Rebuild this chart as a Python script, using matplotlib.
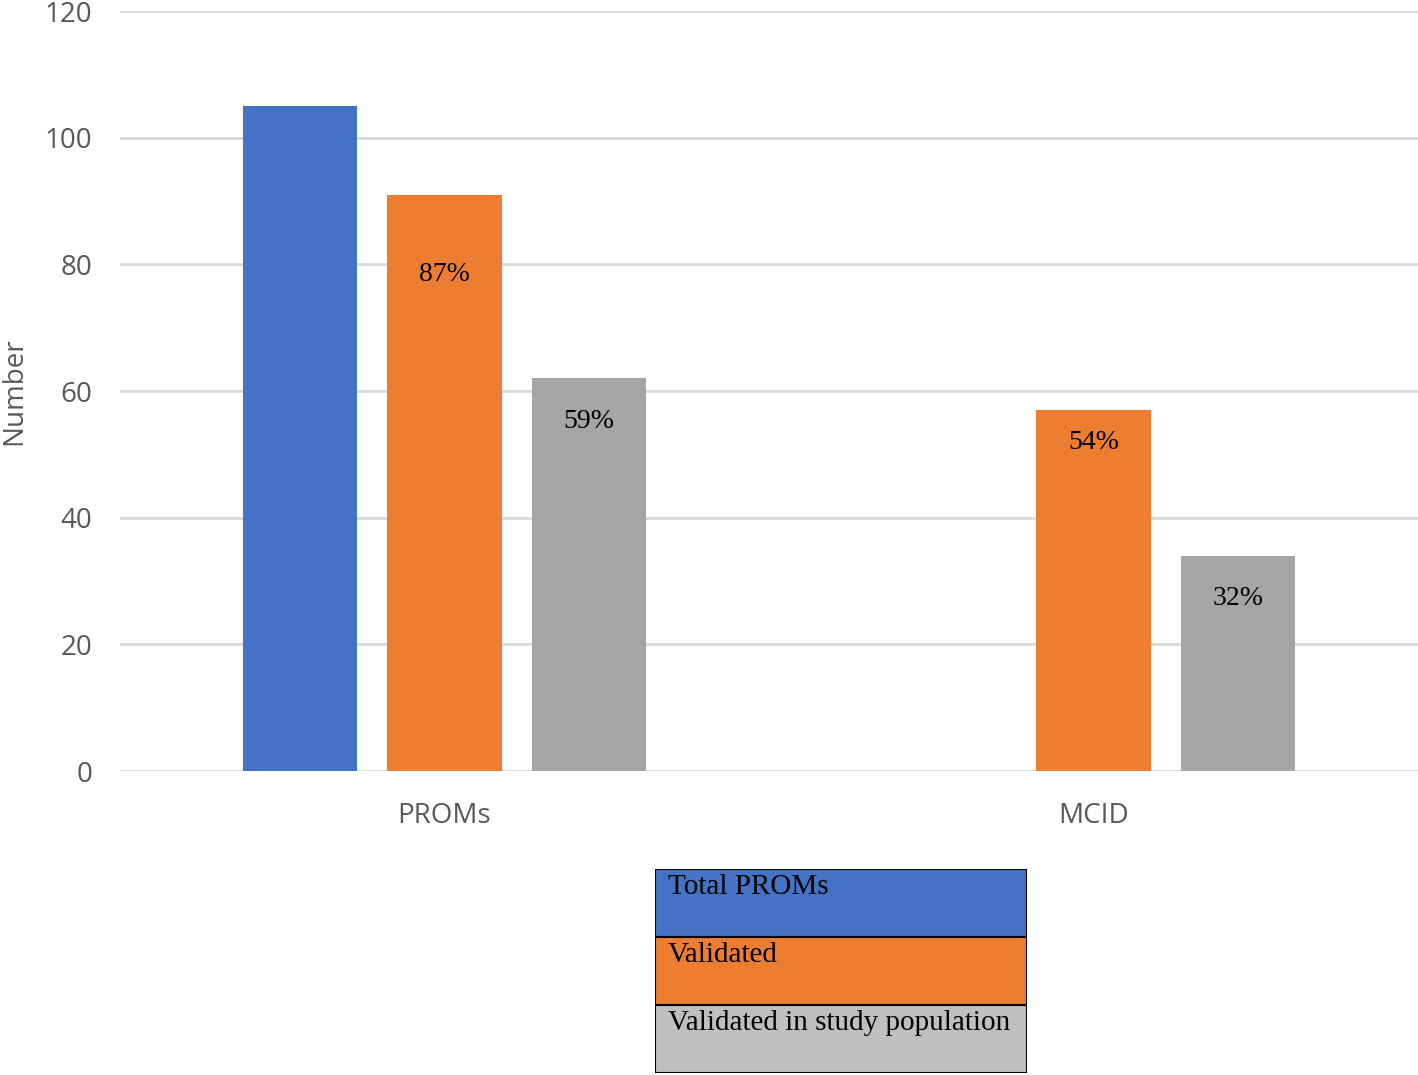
import matplotlib
matplotlib.use("Agg")
import matplotlib.pyplot as plt
from matplotlib.patches import Rectangle

# data
categories = ["PROMs", "MCID"]
series_names = ["Total PROMs", "Validated", "Validated in study population"]
total_proms = [105, None]
validated = [91, 57]
validated_study = [62, 34]
pct_labels = {"Validated": ["87%", "54%"], "Validated in study population": ["59%", "32%"]}
yticks = [0, 20, 40, 60, 80, 100, 120]

colors = ["#4472C4", "#ED7D31", "#A5A5A5"]
legend_colors = ["#4472C4", "#ED7D31", "#BFBFBF"]
# how far below the bar top each percent label sits (data units)
label_drop = {"Validated": [12.6, 5.2], "Validated in study population": [6.8, 6.8]}

W, H = 1418, 1075
fig = plt.figure(figsize=(W / 100, H / 100), dpi=100)
ax = fig.add_axes([120 / W, (H - 771) / H, (W - 120) / W, 760 / H])

bar_w = 0.1757
step = 0.222
series = [total_proms, validated, validated_study]
for i, (name, vals) in enumerate(zip(series_names, series)):
    for j, v in enumerate(vals):
        if v is None:
            continue
        x = j + (i - 1) * step
        ax.bar(x, v, width=bar_w, color=colors[i], zorder=3)
        if name in pct_labels:
            ax.text(x, v - label_drop[name][j], pct_labels[name][j], ha="center", va="center",
                    fontsize=20, family="Liberation Serif", color="black", zorder=4)

ax.set_xlim(-0.5, 1.5)
ax.set_ylim(0, 120)
ax.set_yticks(yticks)
ax.set_xticks(range(len(categories)))
ax.set_xticklabels(categories)
ax.grid(axis="y", color="#D9D9D9", linewidth=2, zorder=0)
ax.set_axisbelow(True)
for s in ax.spines.values():
    s.set_visible(False)
ax.tick_params(axis="both", length=0, labelsize=20, labelcolor="#595959")
ax.tick_params(axis="y", pad=20)
ax.tick_params(axis="x", pad=22)
for lab in ax.get_xticklabels() + ax.get_yticklabels():
    lab.set_family("Open Sans")
ax.set_ylabel("Number", fontsize=20, color="#595959", family="Open Sans")
ax.yaxis.set_label_coords((28 - 120) / (W - 120), 0.5)

# table-style legend under the chart
lax = fig.add_axes([655 / W, (H - 1073) / H, 372 / W, 204 / H])
lax.set_xlim(0, 1)
lax.set_ylim(0, 3)
lax.axis("off")
for k, name in enumerate(series_names):
    y0 = 2 - k
    lax.add_patch(Rectangle((0, y0), 1, 1, facecolor=legend_colors[k], edgecolor="black", linewidth=1.5))
    lax.text(0.035, y0 + 0.92, name, ha="left", va="top", fontsize=21,
             family="Liberation Serif", color="black")

fig.savefig("out.png", dpi=100)
